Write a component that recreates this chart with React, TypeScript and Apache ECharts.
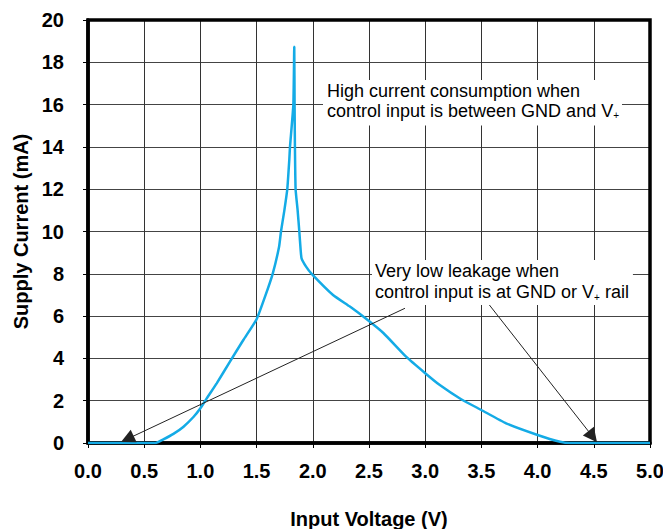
import React, { useEffect, useRef } from 'react';
import * as echarts from 'echarts';

// Input voltage (V) and supply current (mA)
const voltage = [0, 0.6, 0.67, 0.76, 0.85, 0.94, 1.0, 1.056, 1.145, 1.263, 1.382, 1.5, 1.575, 1.643, 1.7, 1.717, 1.747, 1.773, 1.791, 1.797, 1.827, 1.835, 1.838, 1.841, 1.847, 1.865, 1.88, 1.892, 1.9, 1.94, 1.99, 2.18, 2.33, 2.48, 2.63, 2.83, 3.0, 3.13, 3.32, 3.5, 3.72, 4.0, 4.2, 4.29, 5.0];
const current = [0, 0, 0.17, 0.43, 0.77, 1.24, 1.64, 2.11, 2.82, 3.85, 4.87, 5.85, 6.92, 8.0, 9.28, 10, 11, 12, 13.4, 14.0, 16, 18.74, 16, 14, 12, 11, 10, 9.12, 8.73, 8.34, 8.0, 7.0, 6.45, 5.85, 5.19, 4.08, 3.3, 2.74, 2.07, 1.56, 0.93, 0.38, 0.06, 0, 0];

// Axis ranges
const xRange = [0, 5, 0.5];
const yRange = [0, 20, 2];

// Annotation arrows: [start, end] in data coordinates (V, mA)
const arrowLeft = [[2.82, 6.37], [0.35, 0.19]];
const arrowRight = [[3.56, 6.6], [4.49, 0.3]];

// Annotation texts
const noteHigh = ['High current consumption when', 'control input is between GND and V', '+', ''];
const noteLow = ['Very low leakage when', 'control input is at GND or V', '+', ' rail'];

const FONT = '"Liberation Sans", Arial, Helvetica, sans-serif';

export default function App() {
  const ref = useRef<HTMLDivElement>(null);
  useEffect(() => {
    if (!ref.current) return;
    const chart = echarts.init(ref.current, null, { renderer: 'svg' });
    const axisText = { fontSize: 20, fontWeight: 'bold', color: '#000', fontFamily: FONT };
    const noteStyle = (lines: string[], lh: number, padding: number[]) => ({
      text: `${lines[0]}\n${lines[1]}{sub|${lines[2]}}${lines[3]}`,
      fontSize: 18,
      fontFamily: FONT,
      fill: '#000',
      lineHeight: lh,
      backgroundColor: '#fff',
      padding,
      rich: {
        sub: { fontSize: 10, lineHeight: 2, verticalAlign: 'bottom', fontFamily: FONT, fill: '#000' },
      },
    });
    const gLeft = 88, gTop = 20, gRight = 13, gBottom = 86;
    chart.setOption({
      animation: false,
      grid: {
        left: gLeft,
        right: gRight,
        top: gTop,
        bottom: gBottom,
        show: false,
        containLabel: false,
        outerBoundsMode: 'none',
      },
      xAxis: {
        type: 'value',
        min: xRange[0],
        max: xRange[1],
        interval: xRange[2],
        name: 'Input Voltage (V)',
        nameLocation: 'middle',
        nameGap: 66,
        nameTextStyle: axisText,
        axisLine: { show: true, onZero: false, lineStyle: { color: '#000', width: 3.5 } },
        axisTick: { show: true, inside: false, length: 5, lineStyle: { color: '#000', width: 1 } },
        axisLabel: { ...axisText, margin: 18, formatter: (v: number) => v.toFixed(1) },
        splitLine: { show: true, lineStyle: { color: '#333', width: 1 } },
      },
      yAxis: {
        type: 'value',
        min: yRange[0],
        max: yRange[1],
        interval: yRange[2],
        name: 'Supply Current (mA)',
        nameLocation: 'middle',
        nameGap: 56,
        nameTextStyle: axisText,
        axisLine: { show: true, onZero: false, lineStyle: { color: '#000', width: 3.5 } },
        axisTick: { show: true, inside: false, length: 5, lineStyle: { color: '#000', width: 1 } },
        axisLabel: { ...axisText, margin: 24 },
        splitLine: { show: true, lineStyle: { color: '#444', width: 1 } },
      },
      series: [
        {
          type: 'line',
          data: voltage.map((v, i) => [v, current[i]]),
          showSymbol: false,
          symbol: 'none',
          smooth: 0.15,
          lineStyle: { color: '#14abe6', width: 2.5 },
          z: 3,
          markLine: {
            silent: true,
            symbol: ['none', 'triangle'],
            symbolSize: 14,
            label: { show: false },
            lineStyle: { color: '#222', width: 1, type: 'solid' },
            itemStyle: { color: '#222' },
            emphasis: { disabled: true },
            data: [
              [{ coord: arrowLeft[0] }, { coord: arrowLeft[1] }],
              [{ coord: arrowRight[0] }, { coord: arrowRight[1] }],
            ],
          },
        },
      ],
      graphic: [
        {
          type: 'rect',
          z: 1,
          silent: true,
          shape: { x: gLeft, y: gTop, width: 663 - gLeft - gRight, height: 529 - gTop - gBottom },
          style: { fill: 'none', stroke: '#000', lineWidth: 3.5 },
        },
        { type: 'text', x: 323, y: 80, z: 100, style: noteStyle(noteHigh, 19.5, [1.5, 3, 5, 4]) },
        { type: 'text', x: 372, y: 260, z: 100, style: noteStyle(noteLow, 20.5, [1, 4, 3, 3]) },
      ],
    });
    return () => chart.dispose();
  }, []);
  return <div ref={ref} style={{ position: 'absolute', left: 0, top: 0, width: 663, height: 529 }} />;
}
